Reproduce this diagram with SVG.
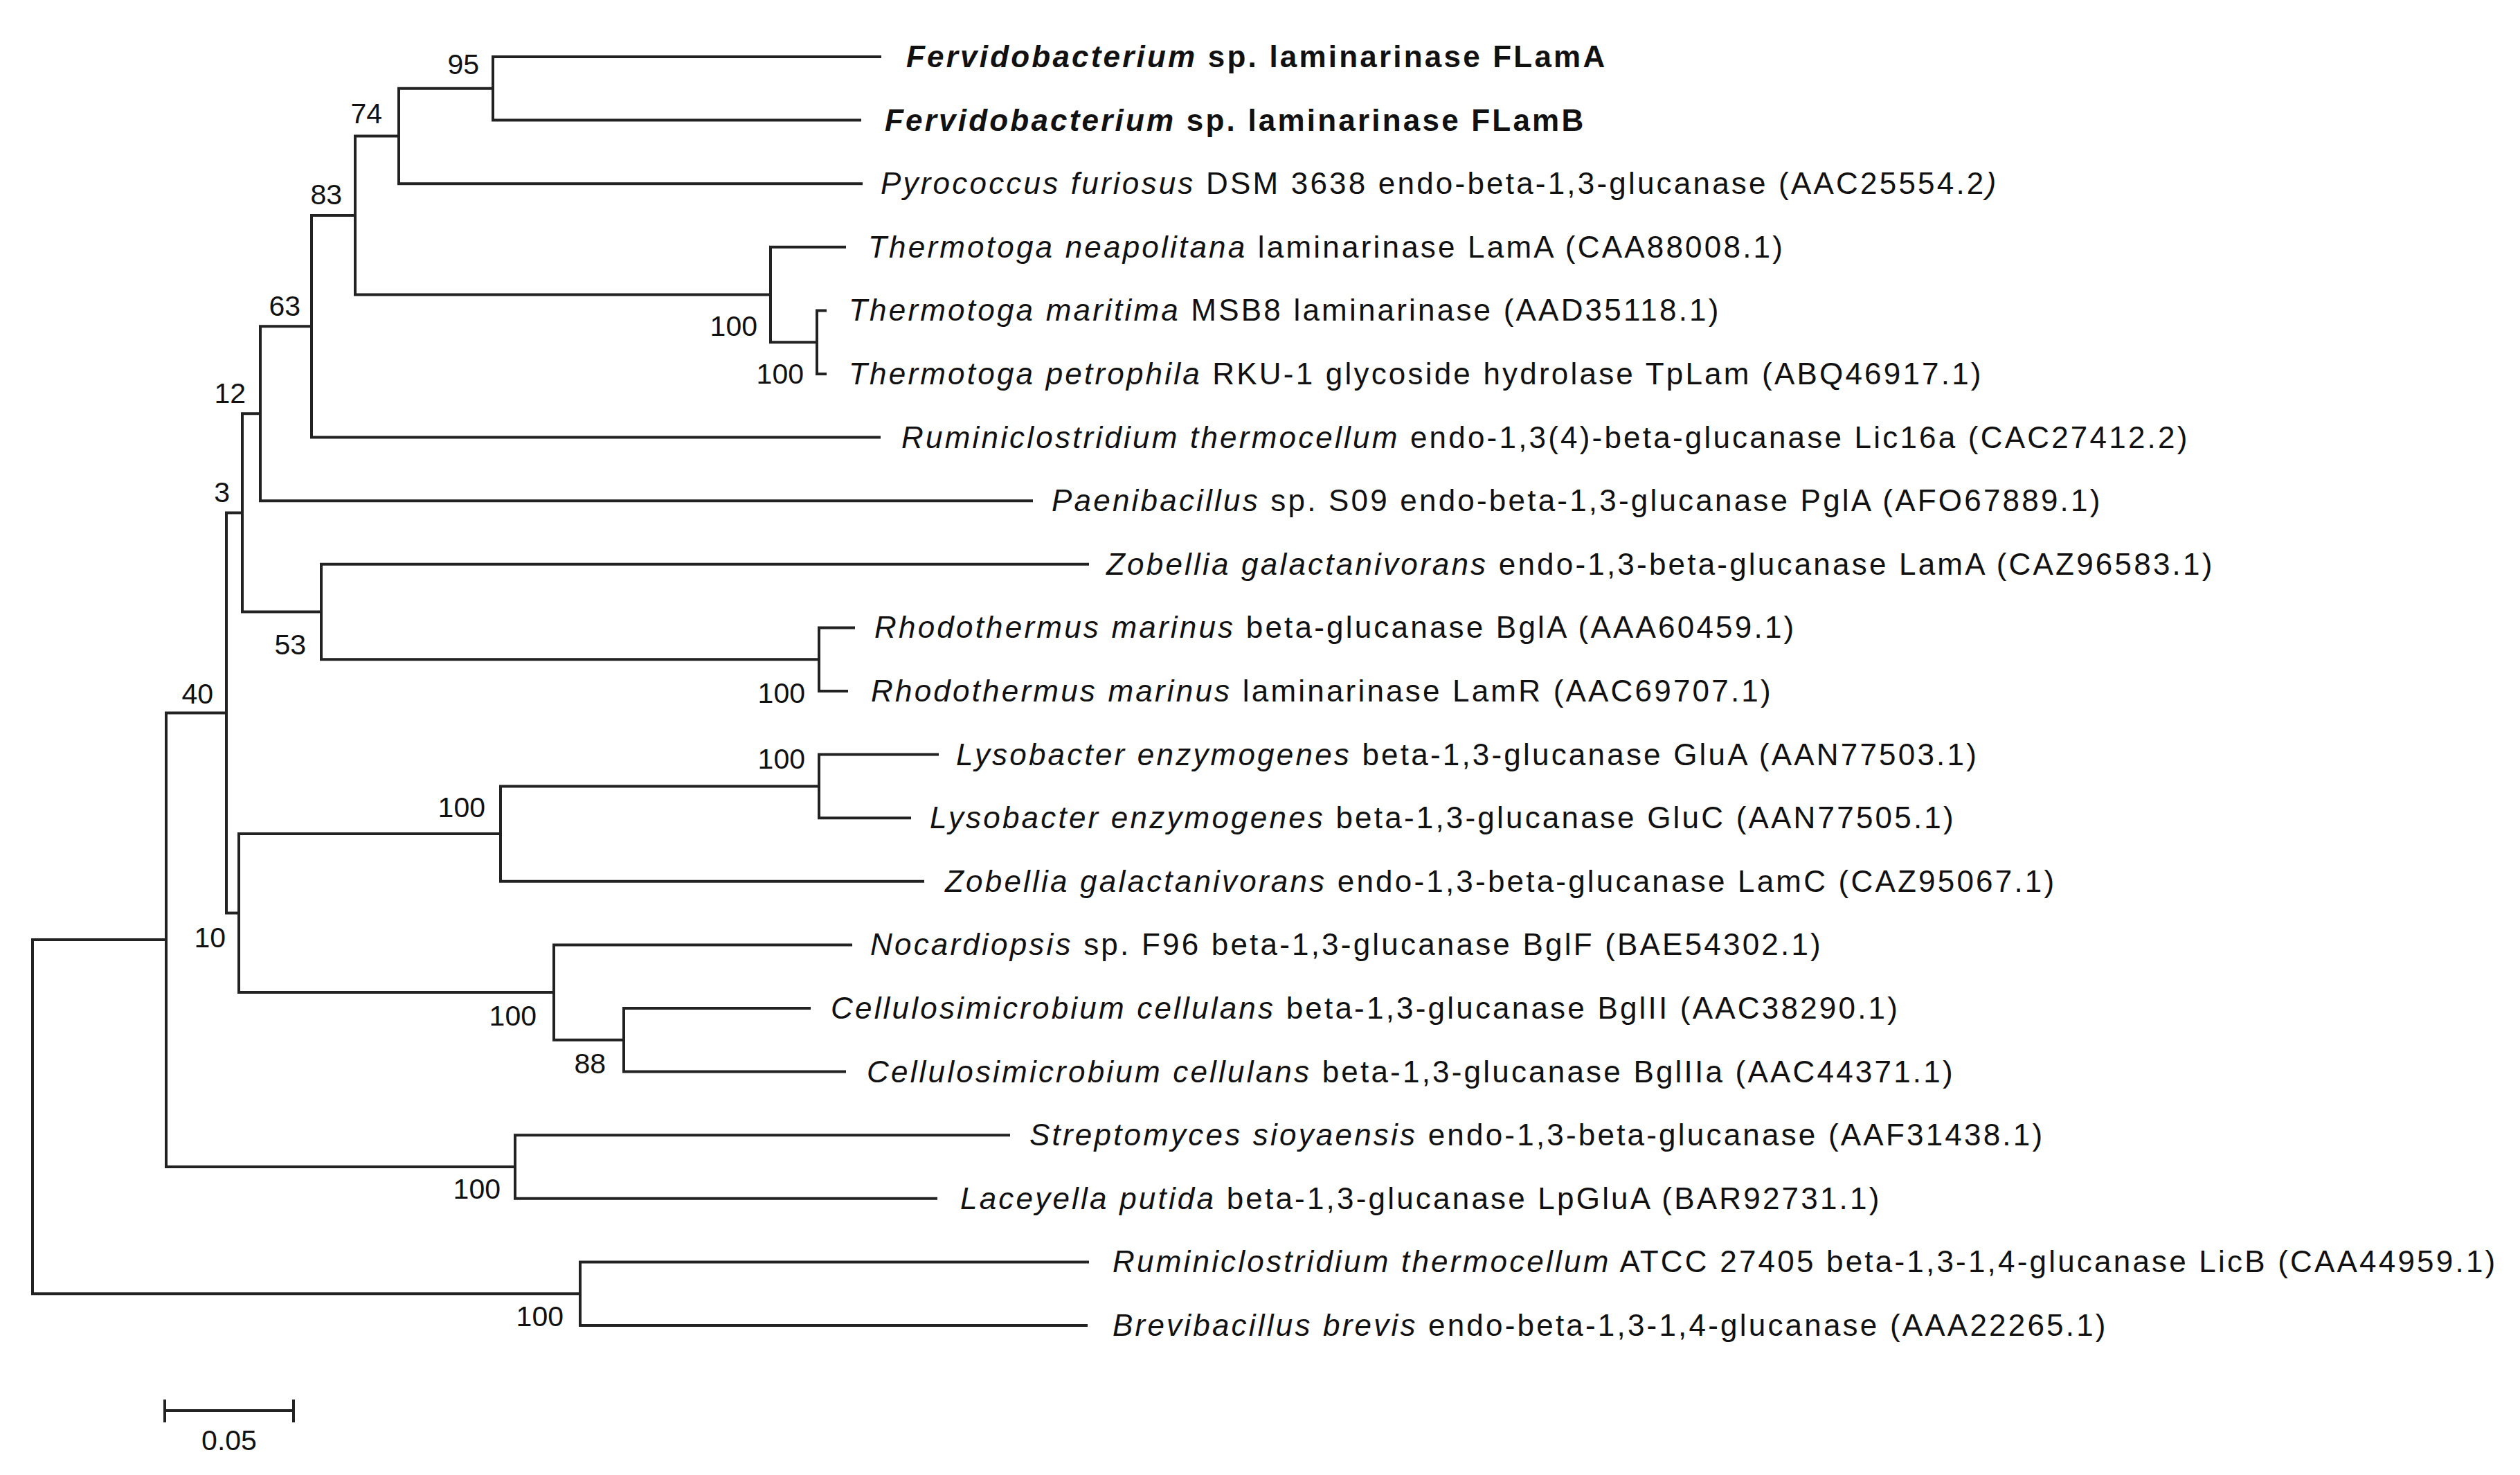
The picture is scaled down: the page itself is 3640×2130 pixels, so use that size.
<svg xmlns="http://www.w3.org/2000/svg" width="3640" height="2130" viewBox="0 0 3640 2130">
<style>
.e{stroke:#222;stroke-width:4;fill:none;stroke-linecap:square}
text{font-family:"Liberation Sans",Arial,sans-serif;fill:#111}
.lf{font-size:44px;letter-spacing:3.2px}
.bs{font-size:41px;text-anchor:end}
.i{font-style:italic}
.b{font-weight:bold}
</style>
<rect width="3640" height="2130" fill="#fff"/>
<g transform="translate(0,-10)">
<g id="edges" class="e">
<path d="M1271,92H712V183.6H1242"/>
<path d="M712,137.8H576V275.2H1244"/>
<path d="M1220,366.8H1113V504.2H1180"/>
<path d="M1192,458.4H1180V550H1192"/>
<path d="M576,206.5H513V435.5H1113"/>
<path d="M513,321H450V641.6H1270"/>
<path d="M450,481.3H376V733.2H1490"/>
<path d="M1233,916.4H1183V1008H1223"/>
<path d="M1571,824.8H464V962.2H1183"/>
<path d="M376,607.3H350V893.5H464"/>
<path d="M1354,1099.6H1183V1191.2H1314"/>
<path d="M1183,1145.4H723V1282.8H1333"/>
<path d="M1169,1466H901V1557.6H1220"/>
<path d="M1229,1374.4H800V1511.8H901"/>
<path d="M723,1214.1H345V1443.1H800"/>
<path d="M350,750.4H327V1328.6H345"/>
<path d="M1457,1649.2H744V1740.8H1352"/>
<path d="M327,1039.5H240V1695H744"/>
<path d="M1571,1832.4H838V1924H1569"/>
<path d="M240,1367H47V1878.2H838"/>
<path d="M238,2047H424M238,2033V2062M424,2033V2062"/>
</g>
<g id="support" class="bs">
<text x="692" y="117">95</text>
<text x="552" y="188">74</text>
<text x="494" y="305">83</text>
<text x="434" y="466">63</text>
<text x="355" y="592">12</text>
<text x="332" y="735">3</text>
<text x="442" y="955">53</text>
<text x="1094" y="495">100</text>
<text x="1161" y="564">100</text>
<text x="1163" y="1025">100</text>
<text x="308" y="1026">40</text>
<text x="1163" y="1120">100</text>
<text x="701" y="1190">100</text>
<text x="326" y="1378">10</text>
<text x="775" y="1491">100</text>
<text x="875" y="1560">88</text>
<text x="723" y="1741">100</text>
<text x="814" y="1925">100</text>
<text x="331" y="2104" style="text-anchor:middle">0.05</text>
</g>
<g id="leaves" class="lf">
<text id="n0" x="1309" y="107" class="b"><tspan class="i">Fervidobacterium</tspan> sp. laminarinase FLamA</text>
<text id="n1" x="1278" y="199" class="b"><tspan class="i">Fervidobacterium</tspan> sp. laminarinase FLamB</text>
<text id="n2" x="1272" y="290"><tspan class="i">Pyrococcus furiosus</tspan> DSM 3638 endo-beta-1,3-glucanase (AAC25554.2<tspan class="i">)</tspan></text>
<text id="n3" x="1254" y="382"><tspan class="i">Thermotoga neapolitana</tspan> laminarinase LamA (CAA88008.1)</text>
<text id="n4" x="1226" y="473"><tspan class="i">Thermotoga maritima</tspan> MSB8 laminarinase (AAD35118.1)</text>
<text id="n5" x="1226" y="565"><tspan class="i">Thermotoga petrophila</tspan> RKU-1 glycoside hydrolase TpLam (ABQ46917.1)</text>
<text id="n6" x="1302" y="657"><tspan class="i">Ruminiclostridium thermocellum</tspan> endo-1,3(4)-beta-glucanase Lic16a  (CAC27412.2)</text>
<text id="n7" x="1519" y="748"><tspan class="i">Paenibacillus</tspan> sp. S09 endo-beta-1,3-glucanase PglA (AFO67889.1)</text>
<text id="n8" x="1598" y="840"><tspan class="i">Zobellia galactanivorans</tspan> endo-1,3-beta-glucanase LamA (CAZ96583.1)</text>
<text id="n9" x="1263" y="931"><tspan class="i">Rhodothermus marinus</tspan> beta-glucanase BglA (AAA60459.1)</text>
<text id="n10" x="1258" y="1023"><tspan class="i">Rhodothermus marinus</tspan> laminarinase LamR (AAC69707.1)</text>
<text id="n11" x="1381" y="1115"><tspan class="i">Lysobacter enzymogenes</tspan> beta-1,3-glucanase GluA (AAN77503.1)</text>
<text id="n12" x="1343" y="1206"><tspan class="i">Lysobacter enzymogenes</tspan> beta-1,3-glucanase GluC (AAN77505.1)</text>
<text id="n13" x="1365" y="1298"><tspan class="i">Zobellia galactanivorans</tspan> endo-1,3-beta-glucanase LamC (CAZ95067.1)</text>
<text id="n14" x="1257" y="1389"><tspan class="i">Nocardiopsis</tspan> sp. F96 beta-1,3-glucanase BglF (BAE54302.1)</text>
<text id="n15" x="1200" y="1481"><tspan class="i">Cellulosimicrobium cellulans</tspan> beta-1,3-glucanase BglII (AAC38290.1)</text>
<text id="n16" x="1252" y="1573"><tspan class="i">Cellulosimicrobium cellulans</tspan> beta-1,3-glucanase BglIIa (AAC44371.1)</text>
<text id="n17" x="1487" y="1664"><tspan class="i">Streptomyces sioyaensis</tspan> endo-1,3-beta-glucanase (AAF31438.1)</text>
<text id="n18" x="1387" y="1756"><tspan class="i">Laceyella putida</tspan> beta-1,3-glucanase LpGluA (BAR92731.1)</text>
<text id="n19" x="1607" y="1847"><tspan class="i">Ruminiclostridium thermocellum</tspan> ATCC 27405 beta-1,3-1,4-glucanase LicB (CAA44959.1)</text>
<text id="n20" x="1607" y="1939"><tspan class="i">Brevibacillus brevis</tspan> endo-beta-1,3-1,4-glucanase (AAA22265.1)</text>
</g>
</g>
</svg>
